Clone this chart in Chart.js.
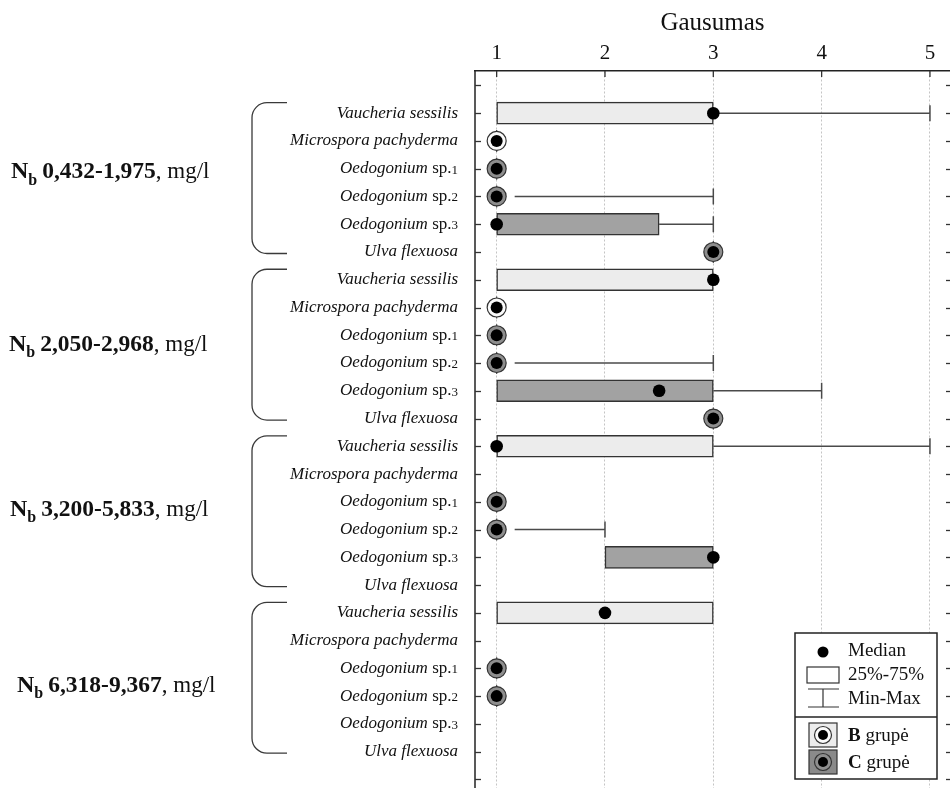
<!DOCTYPE html>
<html><head><meta charset="utf-8">
<script src="https://cdn.jsdelivr.net/npm/chart.js@4"></script>
<style>html,body{margin:0;padding:0;background:#fff;overflow:hidden}canvas{display:block}</style>
</head><body>
<canvas id="c" width="950" height="788"></canvas>
<script>
// ---------- DATA ----------
const speciesNames = ['Vaucheria sessilis','Microspora pachyderma','Oedogonium sp.1','Oedogonium sp.2','Oedogonium sp.3','Ulva flexuosa'];
const speciesGroup = ['B','B','C','C','C','C'];
const nitrogenRanges = ['0,432-1,975','2,050-2,968','3,200-5,833','6,318-9,367'];
const xTickValues = [1,2,3,4,5];
const axisTitle = 'Gausumas';
// 24 rows: 4 nitrogen ranges x 6 species (null = no observation)
const minVals = [1,1,1,1,1,3,   1,1,1,1,1,3,   1,null,1,1,2,null,   1,null,1,1,null,null];
const q1Vals  = [1,1,1,1,1,3,   1,1,1,1,1,3,   1,null,1,1,2,null,   1,null,1,1,null,null];
const medVals = [3,1,1,1,1,3,   3,1,1,1,2.5,3, 1,null,1,1,3,null,   2,null,1,1,null,null];
const q3Vals  = [3,1,1,1,2.5,3, 3,1,1,1,3,3,   3,null,1,1,3,null,   3,null,1,1,null,null];
const maxVals = [5,1,1,3,3,3,   3,1,1,3,4,3,   5,null,1,2,3,null,   3,null,1,1,null,null];
const legendLabels = ['Median','25%-75%','Min-Max'];

// ---------- LAYOUT / STYLE ----------
const FONT = '"Liberation Serif","Times New Roman",serif';
const LIGHT = '#ececec', DARK = '#a2a2a2', MARK_C = '#8e8e8e', MARK_B = '#fbfbfb';
const EDGE = '#333333', WHISK = '#4a4a4a';
const groupLabelRow = [2.35, 8.55, 14.5, 20.85];
const groupLabelX = [11, 9, 10, 17];

const rows = medVals.map((m, i) => ({
  i, sp: i % 6, grp: speciesGroup[i % 6],
  min: minVals[i], q1: q1Vals[i], med: m, q3: q3Vals[i], max: maxVals[i]
}));
const present = rows.filter(r => r.med !== null);
const isBox = r => r.q1 !== r.q3;

const boxRows = present.filter(isBox);
const boxData = boxRows.map(r => ({x: [r.q1, r.q3], y: r.i}));
const boxColors = boxRows.map(r => r.grp === 'B' ? LIGHT : DARK);
const medianData = boxRows.map(r => ({x: r.med, y: r.i}));
const markB = present.filter(r => !isBox(r) && r.grp === 'B').map(r => ({x: r.med, y: r.i}));
const markC = present.filter(r => !isBox(r) && r.grp === 'C').map(r => ({x: r.med, y: r.i}));
const markInner = present.filter(r => !isBox(r)).map(r => ({x: r.med, y: r.i}));
const capData = present.filter(r => r.max > r.q3).map(r => ({x: r.max, y: r.i}));

function drawRuns(ctx, runs, x, y, align) {
  let total = 0;
  runs.forEach(r => { ctx.font = r.font; r.w = ctx.measureText(r.text).width; total += r.w; });
  let cx = align === 'right' ? x - total : x;
  runs.forEach(r => {
    ctx.font = r.font;
    ctx.textAlign = 'left';
    ctx.fillText(r.text, cx, y + (r.dy || 0));
    cx += r.w;
  });
}

const decorPlugin = {
  id: 'decor',
  beforeDatasetsDraw(chart) {
    const {ctx, scales: {x, y}} = chart;
    ctx.save();
    ctx.strokeStyle = WHISK; ctx.lineWidth = 1.5;
    present.forEach(r => {
      const py = y.getPixelForValue(r.i);
      if (r.max > r.q3) {
        let sx = x.getPixelForValue(r.q3);
        if (!isBox(r)) sx += 18;
        ctx.beginPath(); ctx.moveTo(sx, py); ctx.lineTo(x.getPixelForValue(r.max), py); ctx.stroke();
      }
      if (r.min < r.q1) {
        ctx.beginPath(); ctx.moveTo(x.getPixelForValue(r.min), py); ctx.lineTo(x.getPixelForValue(r.q1), py); ctx.stroke();
      }
      if (!isBox(r)) {
        const px = x.getPixelForValue(r.q1);
        ctx.lineWidth = 1.2;
        ctx.beginPath(); ctx.moveTo(px, py - 11); ctx.lineTo(px, py + 11); ctx.stroke();
        ctx.lineWidth = 1.5;
      }
    });
    ctx.restore();
  },
  afterDraw(chart) {
    const {ctx, chartArea: ca, scales: {x, y}} = chart;
    ctx.save();
    // left border
    ctx.strokeStyle = '#222'; ctx.lineWidth = 1.5;
    ctx.beginPath(); ctx.moveTo(ca.left, ca.top); ctx.lineTo(ca.left, ca.bottom); ctx.stroke();
    // inward ticks
    ctx.lineWidth = 1.3; ctx.strokeStyle = '#333';
    for (let v = -1; v <= 24; v++) {
      const py = Math.round(y.getPixelForValue(v)) + 0.5;
      ctx.beginPath(); ctx.moveTo(ca.left, py); ctx.lineTo(ca.left + 6, py); ctx.stroke();
      ctx.beginPath(); ctx.moveTo(ca.right - 4, py); ctx.lineTo(ca.right, py); ctx.stroke();
    }
    xTickValues.forEach(v => {
      const px = x.getPixelForValue(v);
      ctx.beginPath(); ctx.moveTo(px, ca.top); ctx.lineTo(px, ca.top + 6); ctx.stroke();
    });
    // species labels
    ctx.fillStyle = '#111'; ctx.textBaseline = 'middle';
    rows.forEach(r => {
      const name = speciesNames[r.sp];
      const py = y.getPixelForValue(r.i);
      const m = name.match(/^(.*?)( sp\.)(\d)$/);
      let runs;
      if (m) runs = [
        {text: m[1], font: 'italic 17px ' + FONT},
        {text: m[2], font: '17px ' + FONT},
        {text: m[3], font: '13px ' + FONT, dy: 1.5}
      ];
      else runs = [{text: name, font: 'italic 17px ' + FONT}];
      drawRuns(ctx, runs, 458, py, 'right');
    });
    // brackets + group labels
    ctx.textBaseline = 'alphabetic';
    nitrogenRanges.forEach((rg, g) => {
      const top = y.getPixelForValue(g * 6) - 10.5;
      const bot = y.getPixelForValue(g * 6 + 5) + 1.5;
      const bx = 252, ex = 287, rad = 15;
      ctx.strokeStyle = '#3a3a3a'; ctx.lineWidth = 1.3;
      ctx.beginPath();
      ctx.moveTo(ex, top); ctx.lineTo(bx + rad, top);
      ctx.arcTo(bx, top, bx, top + rad, rad);
      ctx.lineTo(bx, bot - rad);
      ctx.arcTo(bx, bot, bx + rad, bot, rad);
      ctx.lineTo(ex, bot);
      ctx.stroke();
      const by = y.getPixelForValue(groupLabelRow[g]);
      drawRuns(ctx, [
        {text: 'N', font: 'bold 24px ' + FONT},
        {text: 'b', font: 'bold 16px ' + FONT, dy: 6.5},
        {text: ' ', font: '20px ' + FONT},
        {text: rg, font: 'bold 23.5px ' + FONT},
        {text: ', mg/l', font: '23px ' + FONT}
      ], groupLabelX[g], by, 'left');
    });
    // legend
    const L = {l: 795, t: 633, r: 937, b: 779, div: 717};
    ctx.fillStyle = '#fff';
    ctx.fillRect(L.l, L.t, L.r - L.l, L.b - L.t);
    ctx.strokeStyle = '#222'; ctx.lineWidth = 1.5;
    ctx.strokeRect(L.l, L.t, L.r - L.l, L.b - L.t);
    ctx.beginPath(); ctx.moveTo(L.l, L.div); ctx.lineTo(L.r, L.div); ctx.stroke();
    const sx = 823, tx = 848;
    ctx.fillStyle = '#000';
    ctx.beginPath(); ctx.arc(sx, 652, 5.5, 0, Math.PI * 2); ctx.fill();
    ctx.lineWidth = 1.2; ctx.strokeStyle = '#333';
    ctx.strokeRect(807, 667, 32, 16);
    ctx.beginPath();
    ctx.moveTo(808, 689); ctx.lineTo(839, 689);
    ctx.moveTo(sx, 689); ctx.lineTo(sx, 707);
    ctx.moveTo(808, 707); ctx.lineTo(839, 707);
    ctx.stroke();
    ctx.fillStyle = '#111'; ctx.textBaseline = 'middle';
    ctx.font = '19px ' + FONT; ctx.textAlign = 'left';
    ctx.fillText(legendLabels[0], tx, 651);
    ctx.fillText(legendLabels[1], tx, 675);
    ctx.fillText(legendLabels[2], tx, 699);
    // group swatches
    [[LIGHT, MARK_B, 'B', 735], ['#8a8a8a', MARK_C, 'C', 762]].forEach(([sw, mk, lab, cy]) => {
      ctx.fillStyle = sw; ctx.fillRect(809, cy - 12, 28, 24);
      ctx.strokeStyle = '#333'; ctx.lineWidth = 1.2; ctx.strokeRect(809, cy - 12, 28, 24);
      ctx.fillStyle = mk; ctx.beginPath(); ctx.arc(sx, cy, 8.5, 0, Math.PI * 2); ctx.fill(); ctx.stroke();
      ctx.fillStyle = '#000'; ctx.beginPath(); ctx.arc(sx, cy, 5, 0, Math.PI * 2); ctx.fill();
      ctx.fillStyle = '#111'; ctx.textBaseline = 'middle';
      drawRuns(ctx, [
        {text: lab, font: 'bold 19px ' + FONT},
        {text: ' grupė', font: '19px ' + FONT}
      ], tx, cy + 1, 'left');
    });
    ctx.restore();
  }
};

Chart.defaults.font.family = FONT;
Chart.defaults.color = '#111';

new Chart(document.getElementById('c'), {
  type: 'bar',
  data: {
    datasets: [
      {type: 'scatter', data: medianData, pointRadius: 6.3, pointBackgroundColor: '#000', pointBorderColor: '#000', pointBorderWidth: 0, order: 0},
      {type: 'scatter', data: markInner, pointRadius: 6, pointBackgroundColor: '#000', pointBorderColor: '#000', pointBorderWidth: 0, order: 1},
      {type: 'scatter', data: markB, pointRadius: 9.5, pointBackgroundColor: MARK_B, pointBorderColor: EDGE, pointBorderWidth: 1.2, order: 2},
      {type: 'scatter', data: markC, pointRadius: 9.5, pointBackgroundColor: MARK_C, pointBorderColor: EDGE, pointBorderWidth: 1.2, order: 3},
      {type: 'scatter', data: capData, pointStyle: 'line', rotation: 90, pointRadius: 8, pointBorderColor: WHISK, pointBorderWidth: 1.5, order: 4},
      {type: 'bar', indexAxis: 'y', data: boxData, backgroundColor: boxColors, borderColor: EDGE, borderWidth: 1.5, borderSkipped: false, barThickness: 22, order: 5}
    ]
  },
  options: {
    responsive: false,
    animation: false,
    events: [],
    layout: {autoPadding: false, padding: {left: 475, right: 0, top: 0, bottom: 0}},
    plugins: {legend: {display: false}, tooltip: {enabled: false}},
    scales: {
      x: {
        type: 'linear', position: 'top', min: 0.8, max: 5.185, offset: false,
        afterFit(s) { s.height = 71; },
        ticks: {stepSize: 1, includeBounds: false, padding: 4.5, color: '#111', font: {size: 21},
          callback: v => xTickValues.includes(v) ? String(v) : ''},
        grid: {color: '#c4c4c4', lineWidth: 1, drawTicks: false, offset: false},
        border: {display: true, color: '#222', width: 1.5, dash: [2, 2]},
        title: {display: true, text: axisTitle, color: '#111', font: {size: 25}, padding: {top: 8, bottom: 0}}
      },
      y: {type: 'linear', reverse: true, min: -1.52, max: 24.31, offset: false, grid: {offset: false}, display: false}
    }
  },
  plugins: [decorPlugin]
});
</script>
</body></html>
